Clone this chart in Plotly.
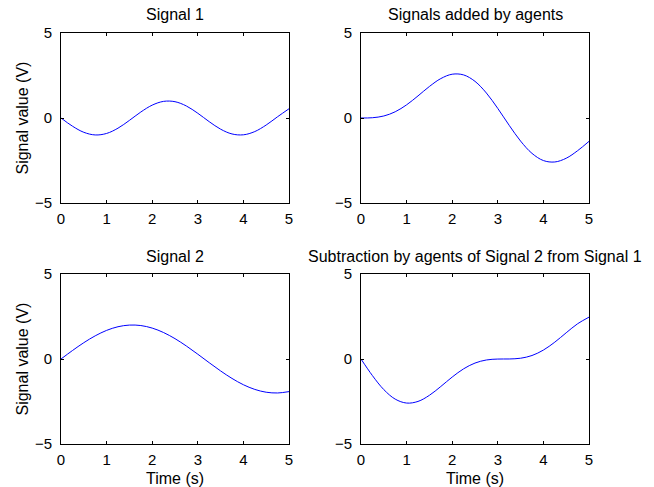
import plotly.graph_objects as go

time_s = [0, 0.25, 0.5, 0.75, 1.0, 1.25, 1.5, 1.75, 2.0, 2.25, 2.5,
          2.75, 3.0, 3.25, 3.5, 3.75, 4.0, 4.25, 4.5, 4.75, 5.0]

signal_1 = [0.0, -0.479, -0.841, -0.997, -0.909, -0.598, -0.141, 0.351, 0.757, 0.978, 0.959,
            0.706, 0.279, -0.215, -0.657, -0.938, -0.989, -0.798, -0.412, 0.075, 0.544]

signal_2 = [0.0, 0.495, 0.959, 1.363, 1.683, 1.898, 1.995, 1.968, 1.819, 1.556, 1.197,
            0.763, 0.282, -0.217, -0.702, -1.143, -1.514, -1.789, -1.955, -1.998, -1.918]

signals_added = [0.0, 0.016, 0.118, 0.366, 0.774, 1.300, 1.854, 2.319, 2.576, 2.534, 2.156,
                 1.469, 0.561, -0.432, -1.359, -2.081, -2.503, -2.587, -2.367, -1.923, -1.374]

signals_subtracted = [0.0, -0.974, -1.800, -2.360, -2.592, -2.496, -2.136, -1.617, -1.062, -0.578, -0.238,
                      -0.057, -0.003, 0.002, 0.045, 0.205, 0.525, 0.991, 1.543, 2.073, 2.462]

titles = ["Signal 1", "Signals added by agents", "Signal 2",
          "Subtraction by agents of Signal 2 from Signal 1"]
series = [signal_1, signals_added, signal_2, signals_subtracted]

x_ticks = [0, 1, 2, 3, 4, 5]
y_ticks = [-5, 0, 5]

W, H = 654, 487
# pixel boxes (left, right, top, bottom)
boxes = [(61, 289, 33, 203), (361, 589, 33, 203),
         (61, 289, 274, 444), (361, 589, 274, 444)]

FONT = "Liberation Sans, Arial, Helvetica, sans-serif"
TICK_SIZE = 15
TEXT_SIZE = 16

fig = go.Figure()
layout = dict(
    width=W, height=H,
    margin=dict(l=0, r=0, t=0, b=0, autoexpand=False),
    paper_bgcolor="white", plot_bgcolor="white",
    showlegend=False,
    font=dict(family=FONT, size=TEXT_SIZE, color="black"),
    annotations=[],
)

for i, (ys, title, box) in enumerate(zip(series, titles, boxes)):
    n = i + 1
    xa = "x" if n == 1 else f"x{n}"
    ya = "y" if n == 1 else f"y{n}"
    fig.add_trace(go.Scatter(x=time_s, y=ys, mode="lines",
                             line=dict(color="#0000ff", width=1, shape="spline", smoothing=1.0),
                             xaxis=xa, yaxis=ya, hoverinfo="skip"))
    l, r, t, b = box
    common = dict(showline=True, linecolor="black", linewidth=1, mirror="ticks",
                  ticks="inside", ticklen=3, tickcolor="black", tickwidth=1,
                  showgrid=False, zeroline=False,
                  tickfont=dict(family=FONT, size=TICK_SIZE, color="black"))
    layout["xaxis" if n == 1 else f"xaxis{n}"] = dict(
        domain=[l / W, r / W], range=[0, 5], tickvals=x_ticks,
        anchor=ya, ticklabelstandoff=2, **common)
    layout["yaxis" if n == 1 else f"yaxis{n}"] = dict(
        domain=[(H - b) / H, (H - t) / H], range=[-5, 5], tickvals=y_ticks,
        anchor=xa, ticklabelstandoff=5, **common)
    layout["annotations"].append(dict(
        text=title, x=(l + r) / 2 / W, y=(H - (t - 18)) / H, xref="paper", yref="paper",
        xanchor="center", yanchor="middle", showarrow=False,
        font=dict(family=FONT, size=TEXT_SIZE, color="black")))
    if n in (1, 3):
        layout["annotations"].append(dict(
            text="Signal value (V)", x=21.5 / W, y=(H - (t + b) / 2) / H,
            xref="paper", yref="paper", textangle=-90,
            xanchor="center", yanchor="middle", showarrow=False,
            font=dict(family=FONT, size=TEXT_SIZE, color="black")))
    if n in (3, 4):
        layout["annotations"].append(dict(
            text="Time (s)", x=(l + r) / 2 / W, y=(H - 478) / H,
            xref="paper", yref="paper",
            xanchor="center", yanchor="middle", showarrow=False,
            font=dict(family=FONT, size=TEXT_SIZE, color="black")))

fig.update_layout(**layout)
fig.write_html("out.html", config={"displayModeBar": False},
               post_script="document.body.style.margin='0';")
